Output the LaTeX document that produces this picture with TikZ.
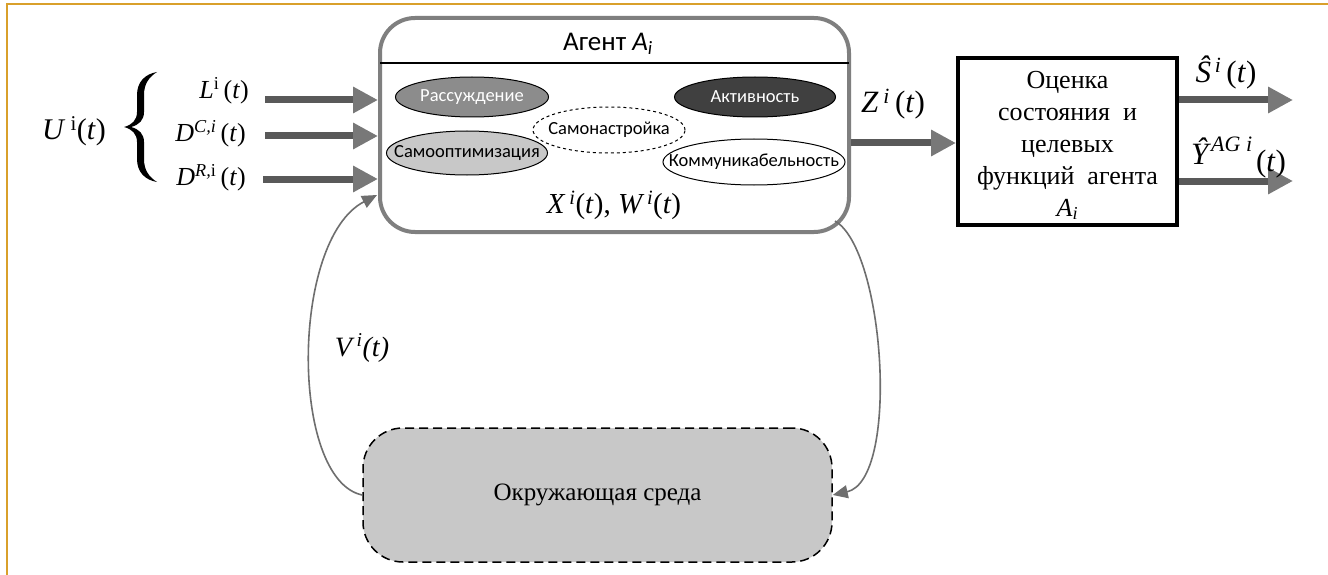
\documentclass[tikz,border=0pt]{standalone}
\usepackage{fontspec}
\setmainfont{Liberation Serif}
\newfontfamily\sansf{Carlito}
\usetikzlibrary{shapes.geometric,arrows.meta}
\definecolor{frameor}{HTML}{D9A02B}
\definecolor{boxgray}{HTML}{7F7F7F}
\definecolor{arrdark}{HTML}{595959}
\definecolor{arrhead}{HTML}{787878}
\definecolor{midgray}{HTML}{8C8C8C}
\definecolor{dkgray}{HTML}{404040}
\definecolor{ltgray}{HTML}{C8C8C8}
\definecolor{thingray}{HTML}{6E6E6E}
\newcommand\myfs[1]{\fontsize{#1}{#1}\selectfont}
\newcommand\nowidth[1]{\makebox[0pt]{#1}}
\begin{document}
\begin{tikzpicture}[x=1pt,y=-1pt,
  bigarrow/.style={line width=7pt, draw=arrdark, -{Triangle[length=25pt,width=25pt,color=arrhead]}},
  thinarrow/.style={line width=1.6pt, draw=thingray, -{Triangle[length=15pt,width=13pt]}},
  ell/.style={ellipse, draw=black, line width=1pt, inner sep=0pt, font=\sansf\myfs{18.5}},
  lbl/.style={inner sep=0pt, font=\myfs{26}},
]
\useasboundingbox (0,0) rectangle (1328,575);
\fill[white] (0,0) rectangle (1328,575);
\draw[frameor, line width=2.5pt] (7,575) -- (7,4) -- (1328,4);

% agent box
\node[draw=boxgray, line width=4pt, rounded corners=35pt, minimum width=469pt, minimum height=214pt, inner sep=0pt, fill=white] (agent) at (614.5,125) {};
\coordinate (divL) at (380,63);
\coordinate (divR) at (849,63);
\draw[line width=1.5pt] (divL) -- (divR);
\node[inner sep=0pt, font=\sansf\myfs{27}] (title) at (608,44) {Агент \textit{A}\textsubscript{\textit{i}}};

\node[ell, fill=midgray, text=white, minimum width=153pt, minimum height=40pt] (reas) at (472,97) {\nowidth{Рассуждение}};
\node[ell, fill=dkgray, text=white, minimum width=161pt, minimum height=40pt] (act) at (755,97) {\nowidth{Активность}};
\node[ell, dashed, fill=white, minimum width=152pt, minimum height=46pt] (tune) at (609,130) {\nowidth{Самонастройка}};
\node[ell, fill=ltgray, minimum width=161pt, minimum height=44pt] (opt) at (467,153) {\nowidth{Самооптимизация}};
\node[ell, fill=white, minimum width=182pt, minimum height=46pt] (comm) at (754,162) {\nowidth{Коммуникабельность}};
\node[lbl, font=\myfs{29}] (xw) at (614,205) {\textit{X\,\textsuperscript{i}}(\textit{t}), \textit{W\,\textsuperscript{i}}(\textit{t})};

% inputs
\coordinate (in1) at (265,100);
\coordinate (in2) at (265,136);
\coordinate (in3) at (263,179);
\draw[bigarrow] (in1) -- (in1 -| agent.west);
\draw[bigarrow] (in2) -- (in2 -| agent.west);
\draw[bigarrow] (in3) -- (in3 -| agent.west);
\node[lbl, anchor=east] (labL) at (249,91) {\textit{L}\textsuperscript{i}\,(\textit{t})};
\node[lbl, anchor=east] (labDC) at (246,134) {\textit{D}\textsuperscript{\textit{C,i}}\,(\textit{t})};
\node[lbl, anchor=east] (labDR) at (246,178) {\textit{D}\textsuperscript{\textit{R,}i}\,(\textit{t})};
% brace
\fill[black] (157,72) .. controls (145,74) and (137,82) .. (137,95) -- (137,112)
  .. controls (137,120) and (132,125) .. (124,127)
  .. controls (132,129) and (137,134) .. (137,142) -- (137,159)
  .. controls (137,172) and (145,180) .. (157,182)
  .. controls (149,177) and (144,170) .. (144,159) -- (144,142)
  .. controls (144,134) and (139,129) .. (131,127)
  .. controls (139,125) and (144,120) .. (144,112) -- (144,95)
  .. controls (144,84) and (149,77) .. (157,72) -- cycle;
\node[lbl, font=\myfs{30}] (U) at (74,131) {\textit{U}\,\textsuperscript{i}(\textit{t})};

% estimation box
\node[draw=black, line width=4pt, minimum width=219pt, minimum height=167pt, inner sep=0pt] (est) at (1067.5,141.5) {};
\node[lbl, align=center, font=\fontsize{26}{32}\selectfont] (estlbl) at ([yshift=-4pt]est.center) {Оценка\\состояния\ \ и\\целевых\\функций\ \ агента\\\textit{A}\textsubscript{\textit{i}}};
\coordinate (zy) at (0,143);
\draw[bigarrow] (agent.east |- zy) -- (est.west |- zy);
\node[lbl, font=\myfs{31}] (zlab) at (893,104) {\textit{Z\,\textsuperscript{i}}\,(\textit{t})};

% outputs
\coordinate (o1) at (1293,100);
\coordinate (o2) at (1293,181);
\draw[bigarrow] (est.east |- o1) -- (o1);
\draw[bigarrow] (est.east |- o2) -- (o2);
\node[lbl, font=\myfs{31}] (slab) at (1226,72) {\textit{Ŝ}\textsuperscript{\textit{\,i}}\,(\textit{t})};
\node[lbl, font=\myfs{31}, anchor=west] (ylab) at (1191,158) {\textit{Ŷ}\raisebox{13pt}{\myfs{22}\textit{AG i}}\kern4pt\raisebox{-7pt}{(\textit{t})}};

% environment
\node[draw=black, dash pattern=on 9pt off 5pt, line width=1.5pt, fill=ltgray, rounded corners=40pt, minimum width=469pt, minimum height=134pt, inner sep=0pt, font=\myfs{25}] (env) at (597.5,495) {Окружающая среда};

\coordinate (vin) at (377,195);
\coordinate (vout) at (835,221);
\draw[thinarrow] (env.west) .. controls (290,480) and (290,240) .. (vin);
\draw[thinarrow] (vout) .. controls (885,250) and (900,480) .. (env.east);
\node[lbl, font=\myfs{28}] (vlab) at (362,348) {\textit{V\,\textsuperscript{i}(t)}};
\end{tikzpicture}
\end{document}
